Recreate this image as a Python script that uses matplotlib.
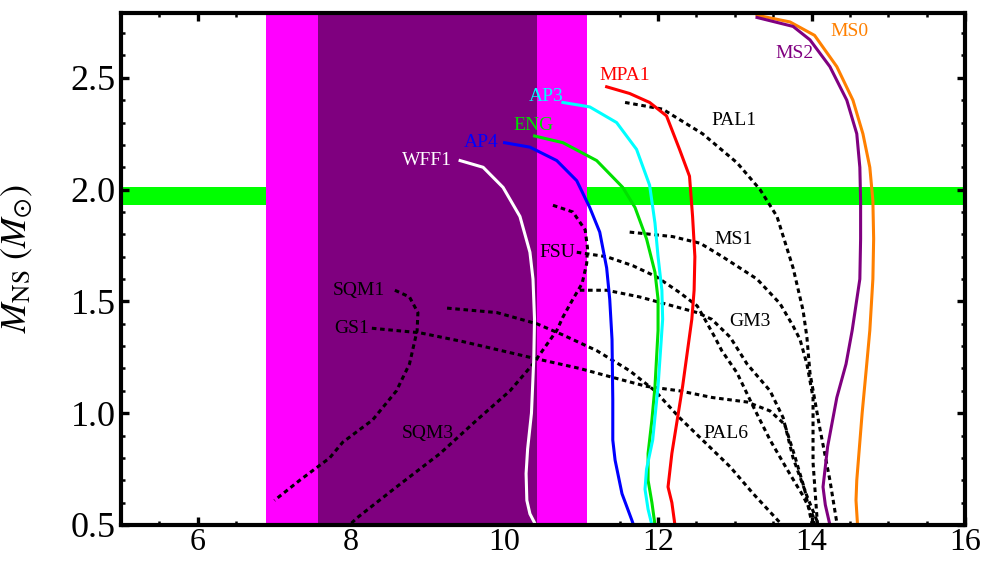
import matplotlib
matplotlib.use("Agg")
import matplotlib.pyplot as plt
from matplotlib.ticker import MultipleLocator

plt.rcParams['font.family'] = ['Liberation Serif', 'DejaVu Serif']
plt.rcParams['mathtext.fontset'] = 'stix'

# ---------------- data (radius km, mass Msun) ----------------
wff1_R = [9.42, 9.72, 9.98, 10.20, 10.33, 10.37, 10.39, 10.38, 10.35, 10.30, 10.28, 10.29, 10.33, 10.39]
wff1_M = [2.13, 2.10, 2.01, 1.88, 1.72, 1.60, 1.42, 1.24, 1.00, 0.84, 0.73, 0.61, 0.55, 0.51]

ap4_R = [10.00, 10.33, 10.68, 10.94, 11.11, 11.24, 11.33, 11.37, 11.40, 11.41, 11.41, 11.44, 11.53, 11.66, 11.68]
ap4_M = [2.21, 2.19, 2.13, 2.04, 1.92, 1.81, 1.65, 1.51, 1.33, 1.06, 0.88, 0.79, 0.64, 0.52, 0.50]

eng_R = [10.39, 10.76, 11.20, 11.54, 11.70, 11.85, 11.96, 12.00, 12.00, 11.96, 11.92, 11.87, 11.87, 11.92, 11.96]
eng_M = [2.24, 2.21, 2.13, 2.01, 1.92, 1.78, 1.63, 1.51, 1.37, 1.12, 0.97, 0.82, 0.70, 0.60, 0.50]

ap3_R = [10.76, 11.11, 11.46, 11.72, 11.89, 11.96, 12.00, 12.05, 12.06, 12.00, 11.93, 11.85, 11.83, 11.87, 11.92]
ap3_M = [2.39, 2.37, 2.30, 2.18, 2.02, 1.85, 1.70, 1.55, 1.42, 1.12, 0.88, 0.75, 0.66, 0.57, 0.50]

mpa1_R = [11.33, 11.63, 11.89, 12.11, 12.28, 12.41, 12.45, 12.48, 12.47, 12.44, 12.32, 12.25, 12.18, 12.13, 12.18, 12.22]
mpa1_M = [2.46, 2.43, 2.39, 2.33, 2.18, 2.06, 1.88, 1.70, 1.55, 1.42, 1.12, 0.97, 0.82, 0.67, 0.60, 0.50]

ms0_R = [13.29, 13.72, 14.04, 14.33, 14.54, 14.67, 14.76, 14.80, 14.81, 14.80, 14.76, 14.72, 14.66, 14.59, 14.58, 14.60]
ms0_M = [2.78, 2.75, 2.69, 2.55, 2.40, 2.25, 2.10, 1.95, 1.78, 1.60, 1.37, 1.22, 1.00, 0.70, 0.61, 0.50]

ms2_R = [13.29, 13.76, 13.98, 14.24, 14.46, 14.59, 14.63, 14.64, 14.64, 14.63, 14.53, 14.45, 14.33, 14.21, 14.15, 14.18, 14.24]
ms2_M = [2.77, 2.73, 2.67, 2.55, 2.40, 2.25, 2.10, 1.95, 1.78, 1.60, 1.37, 1.22, 1.07, 0.85, 0.67, 0.59, 0.50]

pal1_R = [11.57, 12.06, 12.58, 13.03, 13.33, 13.55, 13.76, 13.89, 13.94, 13.98, 14.11, 14.24, 14.33]
pal1_M = [2.39, 2.36, 2.25, 2.12, 2.00, 1.88, 1.65, 1.46, 1.34, 1.18, 0.93, 0.70, 0.51]

ms1_R = [11.63, 12.19, 12.55, 12.84, 13.29, 13.59, 13.76, 13.85, 13.94, 14.02, 14.02, 14.07, 14.08]
ms1_M = [1.81, 1.79, 1.76, 1.70, 1.60, 1.49, 1.39, 1.33, 1.22, 1.07, 0.78, 0.54, 0.50]

fsu_R = [10.94, 11.33, 11.67, 11.98, 12.28, 12.51, 12.61, 12.74, 12.83, 13.03, 13.24, 13.46, 13.68, 13.89, 14.02, 14.04]
fsu_M = [1.72, 1.70, 1.66, 1.61, 1.54, 1.48, 1.42, 1.34, 1.28, 1.18, 1.03, 0.88, 0.75, 0.63, 0.54, 0.50]

gm3_R = [10.98, 11.33, 11.76, 12.19, 12.51, 12.70, 12.94, 13.16, 13.46, 13.63, 13.76, 13.94, 14.07, 14.08]
gm3_M = [1.55, 1.55, 1.52, 1.48, 1.45, 1.42, 1.34, 1.22, 1.10, 0.98, 0.80, 0.63, 0.52, 0.50]

gs1_R = [8.27, 8.89, 9.46, 10.33, 10.98, 11.41, 11.85, 12.28, 12.71, 13.16, 13.46, 13.65, 13.78, 13.91, 14.01]
gs1_M = [1.38, 1.36, 1.32, 1.25, 1.20, 1.16, 1.12, 1.10, 1.07, 1.05, 1.01, 0.95, 0.81, 0.66, 0.50]

pal6_R = [9.25, 9.90, 10.42, 10.76, 11.20, 11.63, 11.96, 12.28, 12.58, 12.94, 13.24, 13.59]
pal6_M = [1.47, 1.45, 1.40, 1.35, 1.28, 1.19, 1.10, 0.98, 0.88, 0.76, 0.64, 0.51]

sqm1_R = [8.57, 8.76, 8.87, 8.86, 8.76, 8.59, 8.28, 7.89, 7.72, 7.33, 7.00]
sqm1_M = [1.55, 1.52, 1.45, 1.37, 1.22, 1.10, 0.97, 0.87, 0.80, 0.70, 0.61]

sqm3_R = [10.63, 10.89, 11.05, 11.08, 11.07, 11.01, 10.89, 10.76, 10.68, 10.37, 10.07, 9.64, 9.16, 8.59, 8.07, 7.98]
sqm3_M = [1.93, 1.90, 1.82, 1.74, 1.67, 1.58, 1.51, 1.43, 1.37, 1.22, 1.10, 0.97, 0.82, 0.67, 0.53, 0.50]

# constraint bands
band_outer = (6.89, 11.07)
band_inner = (7.57, 10.42)
mass_band = (1.93, 2.01)

solid_curves = [
    ("WFF1", wff1_R, wff1_M, "white", (8.99, 2.13)),
    ("AP4", ap4_R, ap4_M, "#0000ff", (9.70, 2.21)),
    ("ENG", eng_R, eng_M, "#00e000", (10.38, 2.285)),
    ("AP3", ap3_R, ap3_M, "#00ffff", (10.54, 2.415)),
    ("MPA1", mpa1_R, mpa1_M, "#ff0000", (11.57, 2.51)),
    ("MS0", ms0_R, ms0_M, "#ff8000", (14.49, 2.706)),
    ("MS2", ms2_R, ms2_M, "#800080", (13.78, 2.61)),
]
dotted_curves = [
    ("PAL1", pal1_R, pal1_M, (12.99, 2.31)),
    ("MS1", ms1_R, ms1_M, (12.99, 1.775)),
    ("FSU", fsu_R, fsu_M, (10.68, 1.72)),
    ("GM3", gm3_R, gm3_M, (13.20, 1.41)),
    ("GS1", gs1_R, gs1_M, (8.01, 1.38)),
    ("PAL6", pal6_R, pal6_M, (12.88, 0.91)),
    ("SQM1", sqm1_R, sqm1_M, (8.10, 1.55)),
    ("SQM3", sqm3_R, sqm3_M, (9.00, 0.907)),
]

fig = plt.figure(figsize=(9.9, 5.61), dpi=100)
ax = fig.add_axes([0.1222, 0.0642, 0.8525, 0.9126])

ax.axhspan(*mass_band, color="#00ff00", lw=0, zorder=1)
ax.axvspan(*band_outer, color="#ff00ff", lw=0, zorder=2)
ax.axvspan(*band_inner, color="#7f007f", lw=0, zorder=3)

for name, R, M, lab in dotted_curves:
    ax.plot(R, M, color="black", lw=2.2, dashes=(1.5, 1.2), dash_capstyle="butt", zorder=4)
    ax.text(lab[0], lab[1], name, color="black", fontsize=14, ha="center", va="center", zorder=6)

for name, R, M, c, lab in solid_curves:
    ax.plot(R, M, color=c, lw=2.2, zorder=5, solid_joinstyle="round")
    ax.text(lab[0], lab[1], name, color=c, fontsize=14, ha="center", va="center", zorder=6)

ax.set_xlim(5, 16)
ax.set_ylim(0.5, 2.79)
ax.xaxis.set_major_locator(MultipleLocator(2))
ax.xaxis.set_minor_locator(MultipleLocator(0.5))
ax.yaxis.set_major_locator(MultipleLocator(0.5))
ax.yaxis.set_minor_locator(MultipleLocator(0.1))
ax.tick_params(which="both", direction="in", top=True, right=True, labelsize=26, pad=4)
ax.tick_params(axis="x", which="both", labelsize=23, pad=2)
ax.tick_params(which="major", length=6, width=2.4)
ax.tick_params(which="minor", length=3, width=1.8)
for s in ax.spines.values():
    s.set_linewidth(3)
    s.set_zorder(10)

ax.set_ylabel(r"$M_{\rm NS}\ (M_{\odot})$", fontsize=26)
ax.yaxis.set_label_coords(-0.102, 0.52)

fig.savefig("out.png", dpi=100)
